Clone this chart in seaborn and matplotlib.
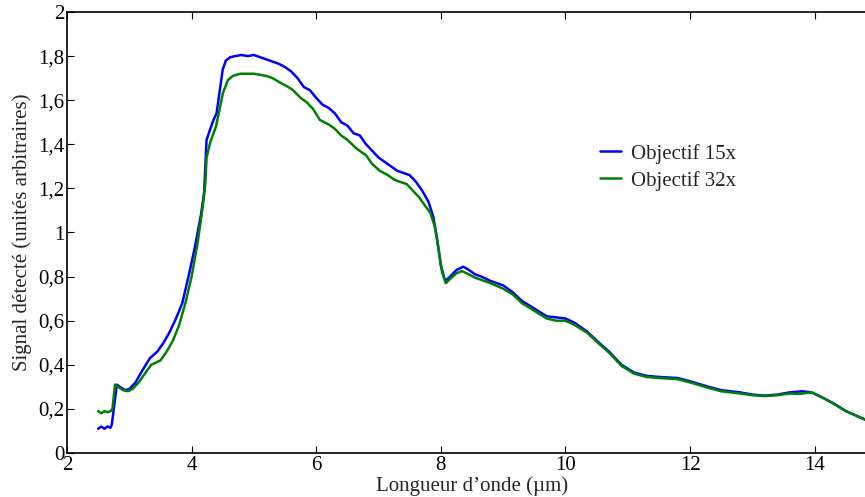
import pandas as pd
import matplotlib
matplotlib.use('Agg')
import matplotlib.pyplot as plt
import seaborn as sns

# Objectif 15x (blue)
x_15 = [2.50, 2.55, 2.60, 2.65, 2.70, 2.72, 2.76, 2.80, 2.85, 2.93, 3.00, 3.10, 3.20, 3.33, 3.45,
        3.55, 3.65, 3.75, 3.85, 3.95, 4.05, 4.15, 4.20, 4.22, 4.24, 4.30, 4.35, 4.40, 4.45, 4.50,
        4.55, 4.62, 4.70, 4.80, 4.90, 5.00, 5.10, 5.20, 5.30, 5.40, 5.50, 5.60, 5.70, 5.80, 5.90,
        6.00, 6.10, 6.20, 6.30, 6.40, 6.50, 6.60, 6.70, 6.80, 6.90, 7.00, 7.10, 7.20, 7.30, 7.40,
        7.50, 7.60, 7.70, 7.80, 7.88, 7.94, 8.00, 8.07, 8.15, 8.25, 8.36, 8.45, 8.55, 8.65, 8.80,
        9.00, 9.15, 9.30, 9.50, 9.70, 9.85, 10.00, 10.15, 10.35, 10.50, 10.70, 10.90, 11.10, 11.30,
        11.50, 11.80, 12.00, 12.30, 12.50, 12.80, 13.00, 13.20, 13.40, 13.60, 13.80, 13.95, 14.10,
        14.30, 14.50, 14.70, 14.90]
y_15 = [0.11, 0.12, 0.11, 0.12, 0.115, 0.13, 0.22, 0.31, 0.30, 0.285, 0.29, 0.32, 0.37, 0.43, 0.46,
        0.50, 0.55, 0.61, 0.68, 0.80, 0.93, 1.08, 1.18, 1.30, 1.42, 1.47, 1.51, 1.54, 1.64, 1.74,
        1.78, 1.795, 1.80, 1.805, 1.80, 1.805, 1.795, 1.785, 1.775, 1.765, 1.75, 1.73, 1.70, 1.66, 1.645,
        1.61, 1.58, 1.565, 1.54, 1.50, 1.485, 1.45, 1.44, 1.40, 1.37, 1.34, 1.32, 1.30, 1.28, 1.27,
        1.26, 1.23, 1.19, 1.14, 1.07, 0.97, 0.85, 0.78, 0.80, 0.83, 0.845, 0.83, 0.81, 0.80, 0.78,
        0.76, 0.73, 0.69, 0.655, 0.62, 0.615, 0.61, 0.59, 0.55, 0.51, 0.46, 0.40, 0.365, 0.35,
        0.345, 0.34, 0.325, 0.30, 0.285, 0.275, 0.265, 0.26, 0.265, 0.275, 0.28, 0.275, 0.255,
        0.225, 0.19, 0.165, 0.14]

# Objectif 32x (green)
x_32 = [2.50, 2.55, 2.60, 2.65, 2.70, 2.73, 2.77, 2.82, 2.90, 2.98, 3.05, 3.15, 3.25, 3.35, 3.50,
        3.60, 3.70, 3.80, 3.90, 4.00, 4.10, 4.18, 4.22, 4.24, 4.30, 4.39, 4.45, 4.50, 4.58, 4.66,
        4.78, 4.90, 5.00, 5.10, 5.20, 5.30, 5.42, 5.55, 5.63, 5.75, 5.85, 5.95, 6.06, 6.20, 6.30,
        6.40, 6.50, 6.65, 6.80, 6.90, 7.02, 7.15, 7.25, 7.34, 7.45, 7.55, 7.65, 7.75, 7.83, 7.90,
        7.95, 8.02, 8.08, 8.15, 8.25, 8.34, 8.45, 8.55, 8.65, 8.80, 9.00, 9.15, 9.30, 9.50, 9.70,
        9.85, 10.00, 10.15, 10.35, 10.50, 10.70, 10.90, 11.10, 11.30, 11.50, 11.80, 12.00, 12.30,
        12.50, 12.80, 13.00, 13.20, 13.40, 13.60, 13.75, 13.95, 14.10, 14.30, 14.50, 14.70, 14.90]
y_32 = [0.19, 0.18, 0.19, 0.185, 0.19, 0.20, 0.31, 0.30, 0.285, 0.28, 0.29, 0.32, 0.36, 0.40, 0.42,
        0.46, 0.51, 0.58, 0.68, 0.80, 0.96, 1.12, 1.22, 1.34, 1.41, 1.48, 1.56, 1.63, 1.69, 1.71,
        1.72, 1.72, 1.72, 1.715, 1.71, 1.70, 1.68, 1.66, 1.645, 1.61, 1.59, 1.56, 1.51, 1.49, 1.47,
        1.44, 1.42, 1.38, 1.35, 1.31, 1.28, 1.26, 1.24, 1.23, 1.22, 1.19, 1.16, 1.12, 1.09, 1.03,
        0.95, 0.82, 0.77, 0.79, 0.815, 0.825, 0.81, 0.795, 0.785, 0.77, 0.745, 0.72, 0.68, 0.645, 0.61,
        0.60, 0.60, 0.58, 0.545, 0.505, 0.455, 0.395, 0.36, 0.345, 0.34, 0.335, 0.32, 0.295,
        0.28, 0.27, 0.262, 0.258, 0.262, 0.27, 0.268, 0.275, 0.255, 0.225, 0.19, 0.165, 0.14]

x_ticks = [2, 4, 6, 8, 10, 12, 14]
y_ticks = [0, 0.2, 0.4, 0.6, 0.8, 1.0, 1.2, 1.4, 1.6, 1.8, 2.0]
y_ticklabels = ['0', '0,2', '0,4', '0,6', '0,8', '1', '1,2', '1,4', '1,6', '1,8', '2']

sns.set_style('ticks')
plt.rcParams['font.family'] = ['Liberation Serif', 'DejaVu Serif']
plt.rcParams['xtick.direction'] = 'in'
plt.rcParams['ytick.direction'] = 'in'

fig = plt.figure(figsize=(8.65, 4.97), dpi=100)
ax = fig.add_axes([67 / 865, 44 / 497, 810 / 865, 441 / 497])

sns.lineplot(x=x_15, y=y_15, ax=ax, color=(0, 0, 1), lw=1.8, estimator=None,
             sort=False, label='Objectif 15x')
sns.lineplot(x=x_32, y=y_32, ax=ax, color=(0, 0.5, 0), lw=1.8, estimator=None,
             sort=False, label='Objectif 32x')

ax.set_xlim(2, 15)
ax.set_ylim(0, 2)
ax.set_xticks(x_ticks)
ax.set_yticks(y_ticks)
ax.set_yticklabels(y_ticklabels)
ax.tick_params(top=True, right=True, labelsize=15, length=5, width=0.8, pad=2, colors='black')
for s in ax.spines.values():
    s.set_linewidth(1.2)
    s.set_color('black')

ax.set_xlabel('Longueur d’onde (µm)', fontsize=15, labelpad=1)
ax.set_ylabel('Signal détecté (unités arbitraires)', fontsize=15, labelpad=4)

ax.legend(loc='center left', bbox_to_anchor=(0.658, 0.648), frameon=False, fontsize=15,
          handlelength=1.0, handletextpad=0.5, labelspacing=0.35, borderpad=0, borderaxespad=0)

fig.savefig('out.png', dpi=100)
